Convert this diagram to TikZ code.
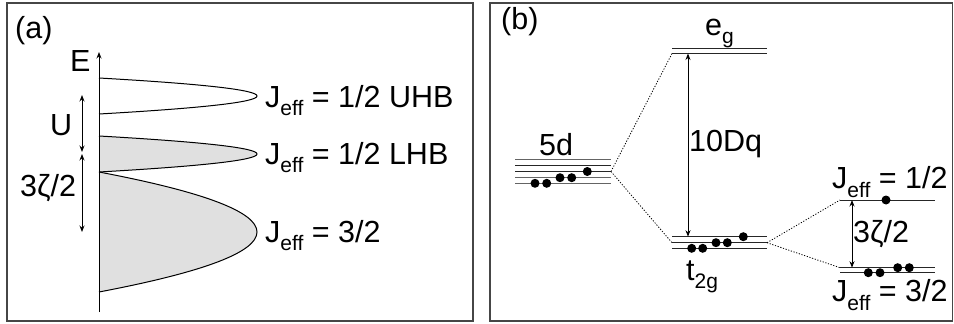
\documentclass[tikz,border=0pt]{standalone}
\usepackage{fontspec}
\setmainfont{Liberation Sans}
\usetikzlibrary{arrows.meta}
\definecolor{bandfill}{RGB}{224,224,224}
\definecolor{framecol}{RGB}{70,70,70}
\definecolor{lvlgray}{RGB}{100,100,100}
\newcommand{\mysub}[1]{\raisebox{-0.28em}{\fontsize{21}{24}\selectfont #1}}
\begin{document}
\begin{tikzpicture}[x=1pt,y=-1pt,
  font=\fontsize{30.5}{34}\selectfont,
  lbl/.style={inner sep=0pt, anchor=base west},
  frame/.style={draw=framecol, line width=1.4pt},
  band/.style={draw=black, line width=1pt},
  lvl/.style={draw=black!85, line width=1pt},
  lvlg/.style={draw=lvlgray, line width=1pt},
  conn/.style={draw=black, line width=0.8pt, dash pattern=on 1.2pt off 1.6pt},
  tip/.tip={Stealth[length=6.5pt,width=5pt]},
  dbl/.style={tip-tip, line width=0.9pt},
  elec/.style={fill=black}]
\useasboundingbox (0,0) rectangle (954,324);
% frames
\draw[frame] (7,3) rectangle (473,321);
\draw[frame] (490,3) rectangle (952.5,321);

% ---------- panel (a) ----------
\node[lbl] (la) at (15,38) {(a)};
% bands
\filldraw[band, fill=white] (99,78) .. controls (309.7,90) and (309.7,102) .. (99,114);
\filldraw[band, fill=bandfill] (99,136) .. controls (309.7,148) and (309.7,160) .. (99,172);
\filldraw[band, fill=bandfill] (99,172) .. controls (309.7,212) and (309.7,252) .. (99,292);
% energy axis
\coordinate (axb) at (99,312);
\coordinate (axt) at (99,52);
\draw[line width=1pt, -tip] (axb) -- (axt);
\node[lbl] (lE) at (70,71) {E};
% gaps
\coordinate (u1) at (82,95);
\coordinate (u2) at (82,152);
\coordinate (z1) at (82,154);
\coordinate (z2) at (82,232);
\draw[dbl] (u1) -- (u2);
\draw[dbl] (z1) -- (z2);
\node[lbl] (lU) at (50,135) {U};
\node[lbl] (lz) at (20,196) {3ζ/2};
\node[lbl] (luhb) at (265,107) {J\mysub{eff} = 1/2 UHB};
\node[lbl] (llhb) at (265,164) {J\mysub{eff} = 1/2 LHB};
\node[lbl] (l32) at (265,242) {J\mysub{eff} = 3/2};

% ---------- panel (b) ----------
\node[lbl] (lb) at (501,30) {(b)};
% 5d levels
\draw[lvlg] (515,159.3) -- (611,159.3);
\draw[lvl]  (515,165) -- (611,165);
\draw[lvl]  (515,171.5) -- (611,171.5);
\draw[lvlg] (515,177.7) -- (611,177.7);
\draw[lvlg] (515,183.3) -- (611,183.3);
\coordinate (dR) at (611,171.5);
\foreach \x/\y in {535/183.3,546.7/183.3,560/177.7,571.7/177.7,587.3/171.5}
  \fill[elec] (\x,\y) circle (4.5);
\node[lbl] (l5d) at (539,155) {5d};
% eg levels
\draw[lvl] (672,48) -- (767,48);
\draw[lvl] (672,53.5) -- (767,53.5);
\coordinate (egL) at (672,53.5);
\node[lbl] (leg) at (705,35) {e\mysub{g}};
% t2g levels
\draw[lvl] (672,236.7) -- (767,236.7);
\draw[lvl] (672,242.7) -- (767,242.7);
\draw[lvl] (672,248.3) -- (767,248.3);
\coordinate (tL) at (672,242.7);
\coordinate (tR) at (767,242.7);
\foreach \x/\y in {691.7/248.3,702.7/248.3,716/242.7,727.3/242.7,743.3/236.7}
  \fill[elec] (\x,\y) circle (4.5);
\node[lbl] (lt2g) at (686,280) {t\mysub{2g}};
% 10Dq
\coordinate (dq1) at (688,53.5);
\coordinate (dq2) at (688,236.7);
\draw[dbl] (dq1) -- (dq2);
\node[lbl] (ldq) at (689,151) {10Dq};
% Jeff levels
\draw[lvl] (840,200) -- (935,200);
\coordinate (j1L) at (840,200);
\fill[elec] (886,200) circle (4.5);
\draw[lvl] (840,267.7) -- (935,267.7);
\draw[lvl] (840,272.7) -- (935,272.7);
\coordinate (j3L) at (840,267.7);
\foreach \x/\y in {868.3/272.7,880/272.7,897.7/267.7,909.3/267.7}
  \fill[elec] (\x,\y) circle (4.5);
\coordinate (zz1) at (852,200);
\coordinate (zz2) at (852,267.7);
\draw[dbl] (zz1) -- (zz2);
\node[lbl] (lzb) at (853,242.5) {3ζ/2};
\node[lbl] (lj12) at (832,188.5) {J\mysub{eff} = 1/2};
\node[lbl] (lj32) at (832,301.5) {J\mysub{eff} = 3/2};
% connectors
\draw[conn] (dR) -- (egL);
\draw[conn] (dR) -- (tL);
\draw[conn] (tR) -- (j1L);
\draw[conn] (tR) -- (j3L);
\end{tikzpicture}
\end{document}
